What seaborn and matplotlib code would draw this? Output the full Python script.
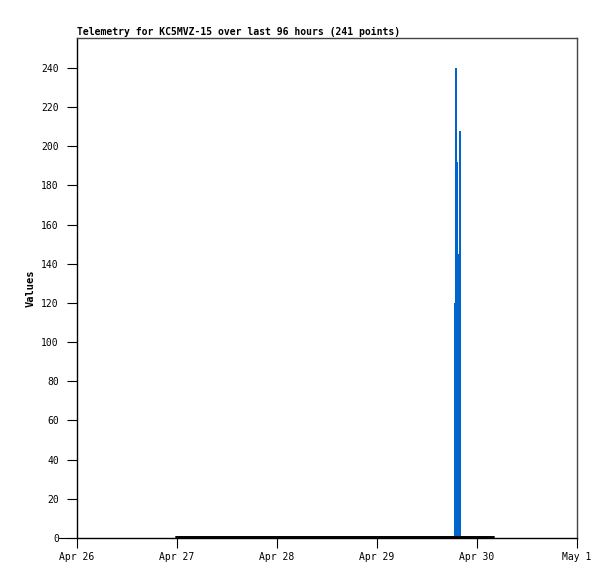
import matplotlib
matplotlib.use("Agg")
import matplotlib.pyplot as plt
import matplotlib.dates as mdates
import pandas as pd
import numpy as np
import seaborn as sns

# data
base_times = ["2023-04-26 23:45", "2023-04-30 04:00"]
base_vals = [0.5, 0.5]

spike_times = ["2023-04-29 18:29", "2023-04-29 18:43", "2023-04-29 19:12",
               "2023-04-29 19:26", "2023-04-29 19:41", "2023-04-29 20:10"]
spike_vals = [120, 240, 192, 145, 208, 0]

xticks = ["2023-04-26", "2023-04-27", "2023-04-28", "2023-04-29", "2023-04-30", "2023-05-01"]

sns.set_style("white")
plt.rcParams['font.family'] = ['DejaVu Sans Mono']
plt.rcParams['text.color'] = 'black'
plt.rcParams['axes.labelcolor'] = 'black'
plt.rcParams['xtick.color'] = 'black'
plt.rcParams['ytick.color'] = 'black'

base = pd.DataFrame({'t': pd.to_datetime(base_times), 'v': base_vals})
spike = pd.DataFrame({'t': pd.to_datetime(spike_times), 'v': spike_vals})

fig = plt.figure(figsize=(6.15, 5.79), dpi=100)
ax = fig.add_axes([77/615, 41/579, 500/615, 500/579])

ax.fill_between(spike['t'], 0, spike['v'], step='post', color='#0066CC', linewidth=0)
sns.lineplot(data=base, x='t', y='v', ax=ax, color='black', linewidth=1.4)

ax.set_xlim(pd.Timestamp(xticks[0]), pd.Timestamp(xticks[-1]))
ax.set_ylim(0, 255.3)
ax.set_xticks(pd.to_datetime(xticks))
ax.xaxis.set_major_formatter(mdates.DateFormatter('%b %-d'))
ax.set_yticks(np.arange(0, 241, 20))

ax.tick_params(axis='both', direction='out', length=7, width=0.8, color='black',
               labelsize=7, bottom=True, left=True)
ax.tick_params(axis='x', pad=3)
ax.tick_params(axis='y', pad=6)

for s in ['left', 'bottom']:
    ax.spines[s].set_color('black')
    ax.spines[s].set_linewidth(1)
for s in ['top', 'right']:
    ax.spines[s].set_color('#444444')
    ax.spines[s].set_linewidth(1)

# longer zero tick
ax.plot([-18/500, 0], [0, 0], transform=ax.get_yaxis_transform(), color='black',
        linewidth=0.8, clip_on=False)

ax.set_xlabel('')
ax.set_ylabel('Values', fontsize=7.5, fontweight='bold', labelpad=4)
ax.set_title('Telemetry for KC5MVZ-15 over last 96 hours (241 points)',
             loc='left', fontsize=7, fontweight='bold', pad=2)

fig.savefig('out.png', dpi=100)
